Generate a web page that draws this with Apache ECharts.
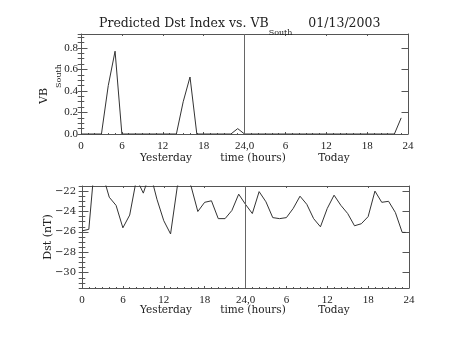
<!DOCTYPE html>
<html><head><meta charset="utf-8">
<script src="https://cdn.jsdelivr.net/npm/echarts@6/dist/echarts.min.js"></script>
<style>html,body{margin:0;padding:0;background:#fff}#c{width:453px;height:340px}</style>
</head><body><div id="c"></div>
<script>
// ---- data ----
const hours = [0,1,2,3,4,5,6,7,8,9,10,11,12,13,14,15,16,17,18,19,20,21,22,23,
               24,25,26,27,28,29,30,31,32,33,34,35,36,37,38,39,40,41,42,43,44,45,46,47];
const vbSouth = [0,0,0,0,0.45,0.77,0,0,0,0,0,0,0,0,0,0.30,0.53,0,0,0,0,0,0,0.05,
                 0,0,0,0,0,0,0,0,0,0,0,0,0,0,0,0,0,0,0,0,0,0,0,0.15];
const dstHours = [0,1,2,3,4,5,6,7,8,9,10,11,12,13,14,15,16,17,18,19,20,21,22,23,
                  24,25,26,27,28,29,30,31,32,33,34,35,36,37,38,39,40,41,42,43,44,45,46,47,47.5];
const dst = [-25.9,-25.75,-18.2,-20.3,-22.6,-23.4,-25.6,-24.35,-20.8,-22.2,-20.2,-22.8,
             -24.9,-26.2,-21.5,-20.5,-21.5,-24.0,-23.1,-22.95,-24.7,-24.7,-23.9,-22.3,
             -23.3,-24.2,-22.05,-23.05,-24.6,-24.7,-24.6,-23.7,-22.5,-23.3,-24.7,-25.5,
             -23.7,-22.4,-23.4,-24.2,-25.4,-25.2,-24.5,-22.0,-23.1,-23.0,-24.1,-26.05,-26.05];
const xTickValues = [0,6,12,18,24,30,36,42,48];
const xTickLabels = ['0','6','12','18','24,0','6','12','18','24'];
const vbTickValues = [0,0.2,0.4,0.6,0.8];
const vbTickLabels = ['0.0','0.2','0.4','0.6','0.8'];
const dstTickValues = [-30,-28,-26,-24,-22];
const dstTickLabels = ['\u221230','\u221228','\u221226','\u221224','\u221222'];
const dayMarker = 24;
const titleText = 'Predicted Dst Index vs. VB{s|South}    01/13/2003';
const dayLabels = ['Yesterday','time (hours)','Today'];

// ---- style ----
const FONT = 'DejaVu Serif';
const TICKFONT = 'Liberation Serif';
const TXT = '#222';
const FRAME = '#555';
const LINE = '#333';

function lookup(vals, labels) {
  return function (v) {
    const i = vals.findIndex(t => Math.abs(t - v) < 1e-6);
    return i < 0 ? '' : labels[i];
  };
}

function xAxesFor(g) {
  const base = {
    gridIndex: g, type: 'value', min: 0, max: 48, interval: 6,
    axisLine: {show: true, onZero: false, lineStyle: {color: FRAME, width: 1}},
    axisTick: {show: true, inside: true, length: 2, lineStyle: {color: FRAME}},
    minorTick: {show: true, splitNumber: 6, length: 1, lineStyle: {color: FRAME}},
    splitLine: {show: false}, minorSplitLine: {show: false}
  };
  return [
    Object.assign({}, base, {position: 'bottom',
      axisLabel: {show: true, margin: 7, fontFamily: TICKFONT, fontSize: 11, color: TXT,
                  formatter: lookup(xTickValues, xTickLabels)}}),
    Object.assign({}, base, {position: 'top', axisLabel: {show: false}})
  ];
}

function yAxesFor(g, min, max, step, majors, labels, labelFont, labelSize, labelMargin, nameCfg) {
  const base = {gridIndex: g, type: 'value', min: min, max: max, interval: step,
                splitLine: {show: false}, minorSplitLine: {show: false}};
  const out = [];
  ['left', 'right'].forEach(pos => {
    const major = Object.assign({}, base, {
      position: pos,
      axisLine: {show: true, onZero: false, lineStyle: {color: FRAME, width: 1}},
      axisTick: {show: true, inside: true, length: 6.5, customValues: majors, lineStyle: {color: FRAME}},
      axisLabel: pos === 'left'
        ? {show: true, customValues: majors, margin: labelMargin, fontFamily: labelFont, fontSize: labelSize,
           color: TXT, formatter: lookup(majors, labels)}
        : {show: false}
    });
    if (pos === 'left' && nameCfg) Object.assign(major, nameCfg);
    out.push(major);
    out.push(Object.assign({}, base, {
      position: pos,
      axisLine: {show: false},
      axisTick: {show: true, inside: true, length: 3.3, lineStyle: {color: FRAME}},
      axisLabel: {show: false}
    }));
  });
  return out;
}

const xAxis = [].concat(xAxesFor(0), xAxesFor(1));
const yAxis = [].concat(
  yAxesFor(0, 0, 0.93, 0.05, vbTickValues, vbTickLabels, TICKFONT, 11, 3, {
    name: 'VB{s|South}', nameLocation: 'middle', nameRotate: 90, nameGap: 18, nameMoveOverlap: false,
    nameTextStyle: {fontFamily: FONT, fontSize: 11, color: TXT, lineHeight: 38,
      rich: {s: {fontFamily: FONT, fontSize: 8, color: TXT, verticalAlign: 'bottom', lineHeight: 10}}}
  }),
  yAxesFor(1, -31.5, -21.5, 0.5, dstTickValues, dstTickLabels, FONT, 10, 6, {
    name: 'Dst (nT)', nameLocation: 'middle', nameRotate: 90, nameGap: 27, nameMoveOverlap: false,
    nameTextStyle: {fontFamily: FONT, fontSize: 11, color: TXT, lineHeight: 14}
  })
);

function markLineCfg() {
  return {silent: true, symbol: ['none', 'none'], label: {show: false},
          lineStyle: {color: '#666', type: 'solid', width: 1},
          data: [{xAxis: dayMarker}]};
}

function dayTexts(y) {
  const xs = [166, 253, 334];
  return dayLabels.map((t, i) => ({
    type: 'text', x: xs[i], y: y,
    style: {text: t, fontFamily: FONT, fontSize: 10.5, fill: TXT, align: 'center', verticalAlign: 'middle'}
  }));
}

const chart = echarts.init(document.getElementById('c'), null, {renderer: 'canvas'});
chart.setOption({
  animation: false,
  backgroundColor: '#fff',
  title: {
    text: titleText, left: 99, top: 11, padding: 0,
    textStyle: {fontFamily: FONT, fontSize: 12.5, fontWeight: 'normal', color: TXT, lineHeight: 26,
      rich: {s: {fontFamily: FONT, fontSize: 8, color: TXT, verticalAlign: 'bottom', lineHeight: 10}}}
  },
  grid: [
    {left: 81, top: 34, width: 327, height: 100, outerBoundsMode: 'none', containLabel: false},
    {left: 82, top: 186, width: 327, height: 102, outerBoundsMode: 'none', containLabel: false}
  ],
  xAxis: xAxis,
  yAxis: yAxis,
  graphic: [].concat(dayTexts(158), dayTexts(310)),
  series: [
    {type: 'line', xAxisIndex: 0, yAxisIndex: 0, showSymbol: false, symbol: 'none',
     lineStyle: {color: LINE, width: 1}, data: hours.map((h, i) => [h, vbSouth[i]]),
     markLine: markLineCfg()},
    {type: 'line', xAxisIndex: 2, yAxisIndex: 4, showSymbol: false, symbol: 'none', clip: true,
     lineStyle: {color: LINE, width: 1}, data: dstHours.map((h, i) => [h, dst[i]]),
     markLine: markLineCfg()}
  ]
});
</script>
</body></html>
